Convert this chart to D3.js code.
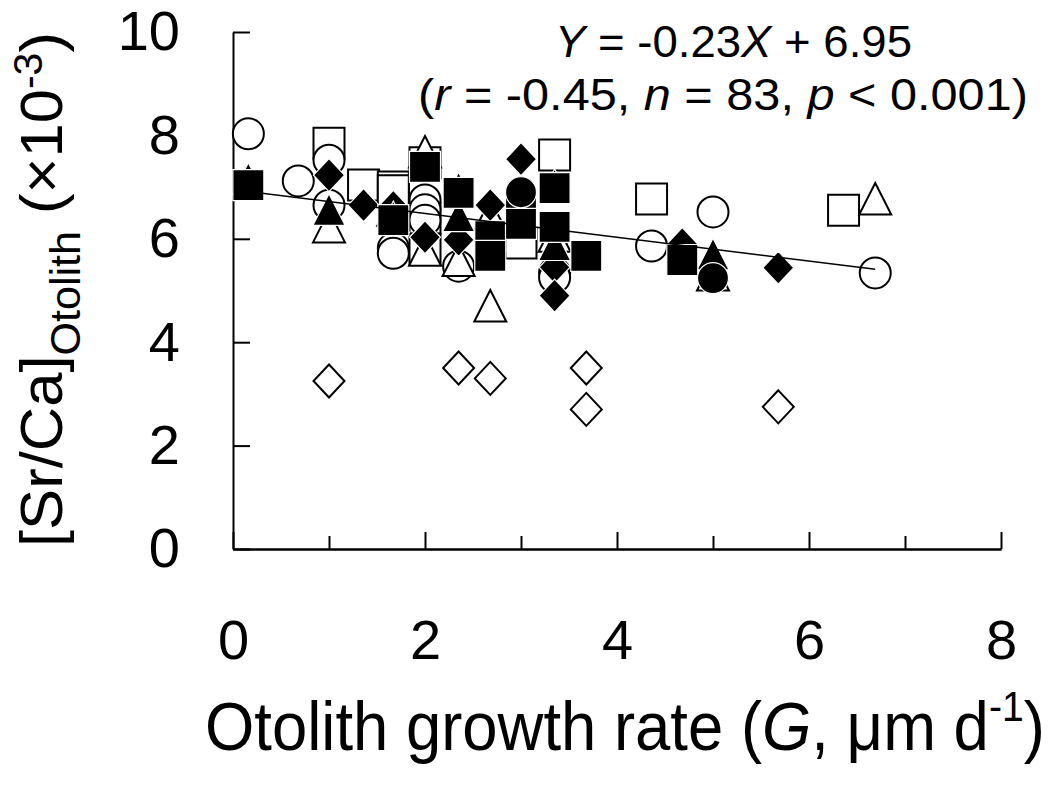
<!DOCTYPE html>
<html><head><meta charset="utf-8">
<script src="https://cdn.jsdelivr.net/npm/d3@7"></script>
<style>
body{margin:0;background:#fff}
svg{display:block}
text{font-family:"Liberation Sans",Arial,sans-serif;fill:#000}
</style>
</head><body>
<svg id="c" width="1054" height="785"></svg>
<script>
// ---- data (x = otolith growth rate, y = Sr/Ca x10^-3) ----
const xMajorTicks = [0, 2, 4, 6, 8];
const xMinorTicks = [1, 3, 5, 7];
const yTicks = [0, 2, 4, 6, 8, 10];

const openSquare = [[1.0,7.85],[1.36,7.04],[1.67,7.0],[1.67,6.93],[2.0,7.47],[2.0,6.4],[2.0,5.8],[3.0,5.92],[3.35,7.62],[4.36,6.77],[6.36,6.55]];
const openCircle = [[0.16,8.03],[0.68,7.12],[1.0,7.52],[1.0,6.65],[1.67,5.82],[1.67,5.72],[2.0,6.75],[2.0,6.56],[2.0,6.36],[2.35,5.47],[3.35,5.34],[3.35,5.25],[4.36,5.86],[5.0,6.52],[6.69,5.34]];
const openTriangle = [[1.0,6.23],[1.67,6.55],[2.0,7.68],[2.0,5.78],[2.35,5.58],[2.68,6.45],[2.68,4.7],[3.35,6.05],[5.0,5.3],[6.69,6.77]];
const openDiamond = [[1.0,3.25],[2.35,3.5],[2.68,3.3],[3.68,3.5],[3.68,2.7],[5.68,2.75]];
const filledDiamond = [[1.0,7.23],[1.36,6.65],[1.67,6.62],[2.0,6.03],[2.35,5.98],[2.68,6.65],[3.0,7.54],[3.35,5.45],[3.35,4.9],[4.68,5.9],[5.68,5.44]];
const filledTriangle = [[0.16,7.16],[1.0,6.56],[1.67,6.42],[2.35,6.98],[2.35,6.44],[3.35,7.04],[3.35,5.88],[5.0,5.7]];
const filledSquare = [[0.16,7.04],[1.67,6.36],[2.0,7.39],[2.35,6.89],[2.68,6.05],[2.68,5.67],[3.0,6.6],[3.0,6.29],[3.35,6.98],[3.35,6.23],[3.68,5.67],[4.68,5.59]];
const filledCircle = [[3.0,6.9],[5.0,5.24]];

const regSlope = -0.23, regIntercept = 6.95;
const regRange = [0.16, 6.69];

// ---- chart ----
const svg = d3.select('#c');
const x = d3.scaleLinear().domain([0, 8]).range([233, 1001]);
const y = d3.scaleLinear().domain([0, 10]).range([549, 32]);

// axes
const gxMinor = svg.append('g').attr('transform', `translate(0,${y(0)})`)
  .call(d3.axisBottom(x).tickValues(xMinorTicks).tickSize(-13).tickSizeOuter(0).tickFormat(''));
const gx = svg.append('g').attr('transform', `translate(0,${y(0)})`)
  .call(d3.axisBottom(x).tickValues(xMajorTicks).tickSize(-17).tickSizeOuter(0).tickPadding(70).tickFormat(d3.format('d')));
const gy = svg.append('g').attr('transform', `translate(${x(0)},0)`)
  .call(d3.axisLeft(y).tickValues(yTicks).tickSize(-17).tickSizeOuter(0).tickPadding(53).tickFormat(d3.format('d')));
[gxMinor, gx, gy].forEach(g => {
  g.attr('font-family', null).attr('font-size', null);
  g.selectAll('path,line').attr('stroke', '#000').attr('stroke-width', 2);
  g.selectAll('text').attr('font-size', 56).attr('fill', '#000');
});

// marker shapes
const shapes = {
  square: 'M-15.5,-15.5H15.5V15.5H-15.5Z',
  triangle: 'M0,-16L16,15.5L-16,15.5Z',
  diamond: 'M0,-16.5L15.5,0L0,16.5L-15.5,0Z',
  circle: 'M15.5,0A15.5,15.5 0 1,1 -15.5,0A15.5,15.5 0 1,1 15.5,0Z'
};
const series = [
  {data: openSquare, shape: 'square', filled: false},
  {data: openCircle, shape: 'circle', filled: false},
  {data: openTriangle, shape: 'triangle', filled: false},
  {data: openDiamond, shape: 'diamond', filled: false},
  {data: filledDiamond, shape: 'diamond', filled: true},
  {data: filledTriangle, shape: 'triangle', filled: true},
  {data: filledSquare, shape: 'square', filled: true},
  {data: filledCircle, shape: 'circle', filled: true}
];
series.forEach(s => {
  svg.append('g').selectAll('path').data(s.data).join('path')
    .attr('d', shapes[s.shape])
    .attr('transform', d => `translate(${x(d[0])},${y(d[1])})`)
    .attr('fill', s.filled ? '#000' : '#fff')
    .attr('stroke', s.filled ? '#fff' : '#000')
    .attr('stroke-width', s.filled ? 1.2 : 2);
});

// regression line
svg.append('line')
  .attr('x1', x(regRange[0])).attr('y1', y(regSlope * regRange[0] + regIntercept))
  .attr('x2', x(regRange[1])).attr('y2', y(regSlope * regRange[1] + regIntercept))
  .attr('stroke', '#000').attr('stroke-width', 1.6);

// helper: fit a text to a target width by horizontal scaling (keeps tspans consistent)
function fitText(t, tx, ty, width, rotate) {
  const w = t.node().getBBox().width;
  const s = width / w;
  t.attr('transform', rotate ? `translate(${tx},${ty}) rotate(-90) scale(${s},1)` : `translate(${tx},${ty}) scale(${s},1)`);
}

// equation text
const eq1 = svg.append('text').attr('font-size', 45);
eq1.append('tspan').attr('font-style', 'italic').text('Y');
eq1.append('tspan').text(' = -0.23');
eq1.append('tspan').attr('font-style', 'italic').text('X');
eq1.append('tspan').text(' + 6.95');
fitText(eq1, 555, 57, 357);

const eq2 = svg.append('text').attr('font-size', 45);
eq2.append('tspan').text('(');
eq2.append('tspan').attr('font-style', 'italic').text('r');
eq2.append('tspan').text(' = -0.45, ');
eq2.append('tspan').attr('font-style', 'italic').text('n');
eq2.append('tspan').text(' = 83, ');
eq2.append('tspan').attr('font-style', 'italic').text('p');
eq2.append('tspan').text(' < 0.001)');
fitText(eq2, 418, 110, 610);

// x axis title
const xt = svg.append('text').attr('font-size', 68);
xt.append('tspan').text('Otolith growth rate (');
xt.append('tspan').attr('font-style', 'italic').text('G');
xt.append('tspan').text(', \u03bcm d');
xt.append('tspan').attr('font-size', 42).attr('dy', -29).text('-1');
xt.append('tspan').attr('dy', 29).text(')');
fitText(xt, 205, 750, 840);

// y axis title
const yt = svg.append('text').attr('font-size', 60);
yt.append('tspan').text('[Sr/Ca]');
yt.append('tspan').attr('font-size', 42).attr('dy', 18).text('Otolith');
yt.append('tspan').attr('dy', -18).text(' (\u00d710');
yt.append('tspan').attr('font-size', 40).attr('dy', -20).text('-3');
yt.append('tspan').attr('dy', 20).text(')');
fitText(yt, 62, 547, 515, true);
</script>
</body></html>
